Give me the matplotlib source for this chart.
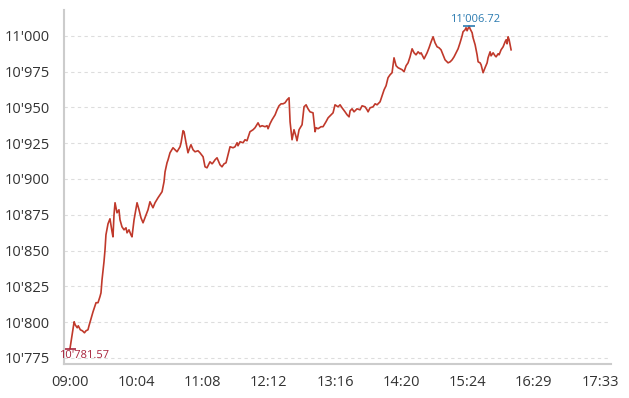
import matplotlib
matplotlib.use("Agg")
import matplotlib.pyplot as plt
from matplotlib.ticker import FuncFormatter

# minutes after 09:00 and index level
minutes = [0, 4, 5, 7, 8, 10, 12, 14, 15.5, 17.4, 18.4, 20.3, 22.3, 25.2, 27.1, 29, 30, 31, 32.9, 33.9,
           34.8, 36.8, 38.7, 40.7, 41.6, 42.6, 43.6, 45.5, 47.4, 48.4, 50.3, 52.3, 54.2, 55.2, 57.1, 59, 60, 62,
           64.9, 66.8, 68.7, 70.7, 73.6, 75.5, 77.4, 80.3, 82.3, 85.2, 87.1, 89.1, 91, 92, 93.9, 94.9, 96.8,
           99.7, 101.6, 103.6, 106.5, 107.5, 109.4, 110.4, 112.3, 114.2, 116.2, 117.1, 119.1, 121, 123.9, 125.8,
           128.8, 130.7, 132.6, 135.5, 137.5, 138.4, 140.4, 142.3, 145.2, 147.1, 149.1, 151, 153, 154.9, 157.8,
           159.7, 161.7, 162.6, 164.6, 167.5, 169.4, 171.3, 174.2, 177.2, 179.1, 182, 183.9, 185.9, 188.8, 190.7,
           191.7, 193.6, 195.5, 198.5, 200.4, 202.3, 204.3, 206.2, 208.1, 210.1, 212, 213, 214.9, 216.8, 218.8,
           219.7, 221.7, 224.6, 226.5, 228.5, 230.4, 232.3, 235.2, 237.2, 238.1, 240.1, 243, 244.9, 247.8, 249.8,
           252.7, 254.6, 256.5, 259.4, 261.4, 263.3, 266.2, 268.2, 270.1, 271.1, 273, 274.9, 277.8, 280.7, 282.7,
           285.6, 287.5, 288.5, 290.4, 293.3, 295.3, 297.2, 300.1, 302, 304, 305.9, 307.8, 309.8, 311.7, 313.6,
           315.6, 317.5, 319.5, 321.4, 323.3, 325.3, 327.2, 329.1, 331.1, 333, 334.9, 336.9, 338.8, 339.8, 341.7,
           342.7, 344.6, 345.6, 347.5, 349.5, 351.4, 353.3, 355.3, 357.2, 359.1, 361.1, 363, 365, 365.9, 367.9,
           369.8, 371.7, 373.7, 375.6, 377.5, 379.5, 380.4, 382.4, 383.3, 384.3, 386.3, 387.2, 389.2, 390.1,
           392.1, 394, 395, 396.9, 397.9, 399.8, 401.7, 403.7, 404.6, 406.6, 407.5, 409.5, 411.4, 412.4, 414.3,
           415.3, 417.2, 419.2, 421.1, 422.1, 423, 424, 425, 426.9]
values = [10781.57, 10800.3, 10798.2, 10796.1, 10797.5, 10794.7, 10794.0, 10792.6, 10794.0, 10794.7, 10797.5,
          10802.4, 10807.3, 10813.6, 10813.6, 10817.8, 10820.5, 10829.6, 10842.2, 10850.6, 10861.0, 10868.7,
          10872.2, 10863.1, 10859.6, 10875.0, 10883.4, 10876.4, 10878.5, 10871.5, 10866.6, 10864.5, 10865.9,
          10862.4, 10864.5, 10861.0, 10859.6, 10871.5, 10883.4, 10878.5, 10872.9, 10869.4, 10875.0, 10878.5,
          10884.1, 10879.9, 10883.4, 10886.9, 10889.0, 10891.1, 10898.0, 10905.0, 10911.3, 10913.4, 10918.3,
          10921.8, 10920.4, 10919.0, 10922.5, 10925.3, 10933.7, 10933.0, 10925.3, 10918.3, 10922.5, 10923.9,
          10920.4, 10919.0, 10919.7, 10918.3, 10915.5, 10908.5, 10907.8, 10912.0, 10910.6, 10911.3, 10913.4,
          10914.8, 10909.9, 10908.5, 10910.6, 10911.3, 10916.9, 10922.5, 10921.8, 10922.5, 10925.3, 10923.2,
          10926.0, 10925.3, 10927.4, 10926.7, 10933.0, 10934.4, 10935.8, 10939.2, 10936.5, 10937.2, 10936.5,
          10937.2, 10935.1, 10938.6, 10941.3, 10944.8, 10948.3, 10951.1, 10952.5, 10952.5, 10953.2, 10955.3,
          10956.7, 10939.9, 10927.4, 10934.4, 10929.5, 10926.7, 10934.4, 10937.9, 10950.4, 10951.8, 10949.0,
          10946.9, 10946.2, 10933.0, 10935.8, 10935.1, 10936.5, 10936.5, 10940.0, 10942.7, 10944.8, 10946.2,
          10951.8, 10950.4, 10951.8, 10949.7, 10946.9, 10944.8, 10943.4, 10947.6, 10949.0, 10946.9, 10949.0,
          10948.3, 10951.1, 10950.4, 10948.3, 10946.9, 10949.7, 10950.4, 10952.5, 10951.8, 10953.9, 10958.1,
          10962.3, 10965.1, 10970.7, 10972.8, 10974.2, 10984.6, 10979.1, 10977.7, 10977.0, 10976.3, 10974.9,
          10979.1, 10981.1, 10985.3, 10990.9, 10988.1, 10986.7, 10988.8, 10987.4, 10988.1, 10985.3, 10983.9,
          10986.7, 10988.1, 10991.6, 10995.8, 10999.3, 10995.1, 10992.3, 10991.6, 10990.2, 10986.7, 10983.2,
          10981.8, 10981.1, 10981.8, 10983.2, 10985.3, 10988.1, 10990.9, 10995.1, 11000.0, 11002.8, 11004.2,
          11005.6, 11003.5, 11006.72, 11004.9, 11002.1, 10998.6, 10993.7, 10986.7, 10981.8, 10981.1, 10979.7,
          10974.2, 10977.7, 10981.1, 10984.6, 10988.8, 10986.0, 10988.1, 10986.0, 10985.3, 10987.4, 10986.7,
          10990.2, 10992.3, 10995.8, 10997.2, 10994.4, 10999.3, 10997.2, 10990.2]

tick_labels = ['09:00', '10:04', '11:08', '12:12', '13:16', '14:20', '15:24', '16:29', '17:33']
tick_minutes = [i * 64.125 for i in range(len(tick_labels))]
y_ticks = [10775, 10800, 10825, 10850, 10875, 10900, 10925, 10950, 10975, 11000]

plt.rcParams['font.family'] = ['Open Sans', 'DejaVu Sans']

fig = plt.figure(figsize=(6.29, 3.98), dpi=100)
ax = fig.add_axes([64 / 629, 34 / 398, 547 / 629, 354 / 398])

ax.plot(minutes, values, color='#c0392b', linewidth=1.2)

ax.set_xlim(-5.8, 523.6)
ax.set_ylim(10770.8, 11018)
ax.set_xticks(tick_minutes)
ax.set_xticklabels(tick_labels)
ax.set_yticks(y_ticks)
ax.yaxis.set_major_formatter(FuncFormatter(lambda v, p: f"{v:,.0f}".replace(",", "'")))
ax.tick_params(length=0, labelsize=10.5, colors='#333333')
ax.tick_params(axis='y', pad=10)
ax.tick_params(axis='x', pad=8)

ax.grid(axis='y', color='#dddddd', linestyle=(0, (3, 3)), linewidth=0.8)
ax.set_axisbelow(True)
for s in ['top', 'right']:
    ax.spines[s].set_visible(False)
for s in ['left', 'bottom']:
    ax.spines[s].set_color('#cccccc')
    ax.spines[s].set_linewidth(1.5)

# low / high markers
i_lo = values.index(min(values))
i_hi = values.index(max(values))
fmt = lambda v: f"{v:,.2f}".replace(",", "'")
ax.plot(minutes[i_lo], values[i_lo], marker='_', markersize=9, color='#a8243c', mew=1.2)
ax.annotate(fmt(values[i_lo]), (minutes[i_lo], values[i_lo]), xytext=(10, -5), textcoords='offset points',
            ha='center', va='center', fontsize=8, color='#a8243c')
ax.plot(minutes[i_hi], values[i_hi], marker='_', markersize=9, color='#2a7ab0', mew=1.2)
ax.annotate(fmt(values[i_hi]), (minutes[i_hi], values[i_hi]), xytext=(4, 5), textcoords='offset points',
            ha='center', va='center', fontsize=8, color='#2a7ab0')

fig.savefig('out.png', dpi=100)
